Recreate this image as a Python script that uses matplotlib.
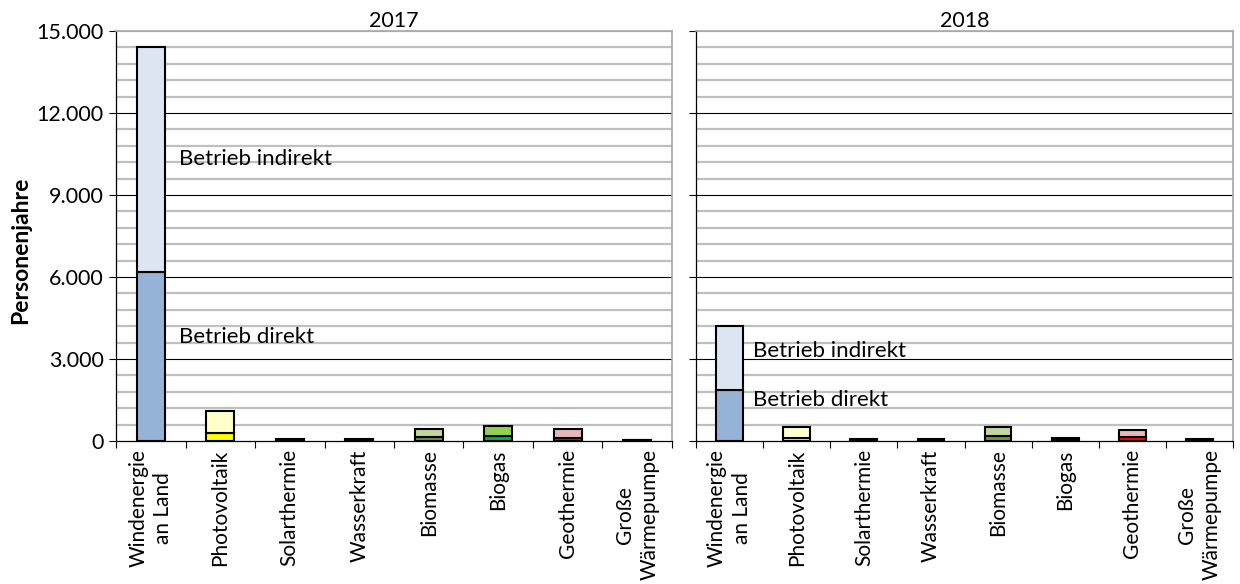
import matplotlib
matplotlib.use("Agg")
import matplotlib.pyplot as plt
import numpy as np
from matplotlib.ticker import FuncFormatter, MultipleLocator

categories = ["Windenergie\nan Land", "Photovoltaik", "Solarthermie", "Wasserkraft",
              "Biomasse", "Biogas", "Geothermie", "Große\nWärmepumpe"]
years = ["2017", "2018"]
direkt_2017 = [6200, 300, 40, 40, 150, 200, 100, 20]
indirekt_2017 = [8200, 800, 40, 40, 300, 340, 350, 20]
direkt_2018 = [1850, 100, 30, 30, 180, 50, 130, 30]
indirekt_2018 = [2350, 400, 30, 30, 340, 50, 270, 30]
colors_direkt = ["#95B3D7", "#FFFF00", "#F79646", "#4BACC6", "#77933C", "#00B050", "#FF0000", "#8064A2"]
colors_indirekt = ["#DCE6F2", "#FFFFCC", "#FCD5B5", "#B7DEE8", "#C3D69B", "#92D050", "#E6B9B8", "#CCC1DA"]
label_direkt = "Betrieb direkt"
label_indirekt = "Betrieb indirekt"
ylabel = "Personenjahre"

plt.rcParams['font.family'] = ['Lato', 'DejaVu Sans']

fig = plt.figure(figsize=(12.4, 5.84), dpi=100)
W, H = 1240, 584
ax1 = fig.add_axes([116 / W, (H - 441) / H, 556 / W, 410 / H])
ax2 = fig.add_axes([696 / W, (H - 441) / H, 537 / W, 410 / H])

data = [(ax1, direkt_2017, indirekt_2017, years[0]), (ax2, direkt_2018, indirekt_2018, years[1])]
x = np.arange(len(categories))
fmt = FuncFormatter(lambda v, p: f"{int(v):,}".replace(",", "."))

for i, (ax, d, ind, yr) in enumerate(data):
    ax.set_xlim(-0.5, len(categories) - 0.5)
    ax.set_ylim(0, 15000)
    for y in np.arange(600, 15001, 600):
        if y % 3000 == 0 and y < 15000:
            ax.axhline(y, color="black", lw=0.8, zorder=1)
        else:
            ax.axhline(y, color="#BFBFBF", lw=1.6, zorder=1)
    ax.bar(x, d, width=0.4, color=colors_direkt, edgecolor="black", lw=1.5, zorder=3)
    ax.bar(x, ind, bottom=d, width=0.4, color=colors_indirekt, edgecolor="black", lw=1.5, zorder=3)
    ax.yaxis.set_major_locator(MultipleLocator(3000))
    ax.yaxis.set_major_formatter(fmt)
    ax.tick_params(axis="y", direction="out", length=5, width=0.8, labelsize=15.5, pad=4)
    ax.set_xticks(x)
    ax.set_xticklabels(categories, rotation=90, fontsize=15, ha="center", va="top", ma="center",
                       linespacing=1.3)
    ax.set_xticks(np.arange(-0.5, len(categories) + 0.5, 1), minor=True)
    ax.tick_params(axis="x", which="major", length=0, pad=6)
    ax.tick_params(axis="x", which="minor", direction="out", length=5, width=0.8)
    ax.spines["left"].set_color("black")
    ax.spines["bottom"].set_color("black")
    ax.spines["right"].set_color("#A6A6A6")
    ax.spines["top"].set_color("#A6A6A6")
    for s in ax.spines.values():
        s.set_linewidth(1.2)
    ax.spines["left"].set_linewidth(0.9)
    ax.spines["bottom"].set_linewidth(0.9)
    ax.set_title(yr, fontsize=15.5, pad=1)

ax2.tick_params(axis="y", labelleft=False)
ax1.set_ylabel(ylabel, fontsize=16.5, fontweight="bold")
ax1.yaxis.set_label_coords(-0.152, 0.466)

ax1.text(0.4, 10300, label_indirekt, fontsize=16, va="center", ha="left", zorder=5)
ax1.text(0.4, 3800, label_direkt, fontsize=16, va="center", ha="left", zorder=5)
ax2.text(0.35, 3300, label_indirekt, fontsize=16, va="center", ha="left", zorder=5)
ax2.text(0.35, 1500, label_direkt, fontsize=16, va="center", ha="left", zorder=5)

fig.savefig("out.png", dpi=100)
